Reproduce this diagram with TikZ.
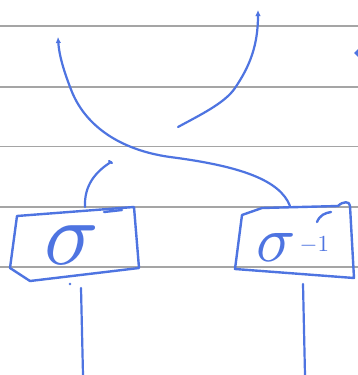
\documentclass[tikz,border=0pt]{standalone}
\usepackage{graphicx}
\usetikzlibrary{arrows.meta}
\definecolor{pen}{RGB}{78,116,225}
\definecolor{rule}{RGB}{165,165,165}
\tikzset{
  ruling/.style={draw=rule, line width=1.3pt},
  strand/.style={draw=pen, line width=2.2pt, line cap=round},
  boxline/.style={draw=pen, line width=2.4pt, line join=round, line cap=round},
  tip/.style={-{Latex[length=6pt,width=5.5pt]}},
  label/.style={text=pen, inner sep=0pt}
}
\begin{document}
\begin{tikzpicture}[x=1pt,y=-1pt]
\useasboundingbox[fill=white] (0,0) rectangle (358,375);
% ruled lines
\foreach \yy in {26,87,146.5,207,267}{
  \draw[ruling] (0,\yy) -- (358,\yy);
}
% left box
\coordinate (L1) at (17,216);
\coordinate (L2) at (134,207);
\coordinate (L3) at (139,268);
\coordinate (L4) at (30,281);
\coordinate (L5) at (10,268);
\draw[boxline] (L1) -- (L2) -- (L3) -- (L4) -- (L5) -- cycle;
\draw[boxline] (104,212) -- (122,210);
% right box
\coordinate (R1) at (242,215);
\coordinate (R2) at (262,208);
\coordinate (R3) at (338,206);
\coordinate (R4) at (350,206);
\coordinate (R5) at (354,278);
\coordinate (R6) at (235,269);
\draw[boxline] (R1) -- (R2) -- (R3) .. controls (343,201) and (350,201) .. (R4) -- (R5) -- (R6) -- cycle;
\draw[boxline] (317,222) .. controls (320,215) and (325,213) .. (331,212);
% labels
\node[label] (s1) at (72,245) {\scalebox{9}{$\sigma$}};
\node[label, anchor=base west] (s2) at (256,261)
  {\scalebox{6.5}{$\sigma$}\hspace{4pt}\raisebox{10pt}{\scalebox{2.3}{$-1$}}};
% strand end points
\coordinate (a1) at (85,207);
\coordinate (a2) at (111,162);
\coordinate (b1) at (290,206);
\coordinate (b2) at (58,37);
\coordinate (c1) at (178,127);
\coordinate (c2) at (258,10);
\coordinate (d1) at (81,288);
\coordinate (d2) at (83,375);
\coordinate (e1) at (303,284);
\coordinate (e2) at (305,375);
% strands
\draw[strand] (d1) -- (d2);
\draw[strand] (e1) -- (e2);
\draw[strand] (a1) .. controls (84,186) and (95,172) .. (a2);
\draw[strand] (109,161) -- (112,163);
\draw[strand, tip] (b1) .. controls (280,180) and (240,166) .. (170,157)
   .. controls (120,150) and (86,126) .. (72,92)
   .. controls (64,72) and (59,55) .. (b2);
\draw[strand, tip] (c1) .. controls (200,115) and (225,103) .. (235,88)
   .. controls (250,66) and (258,45) .. (c2);
% small marks
\fill[pen] (70,284) circle (1.3pt);
\fill[pen] (354,53) -- (358,49) -- (358,57) -- cycle;
\end{tikzpicture}
\end{document}
